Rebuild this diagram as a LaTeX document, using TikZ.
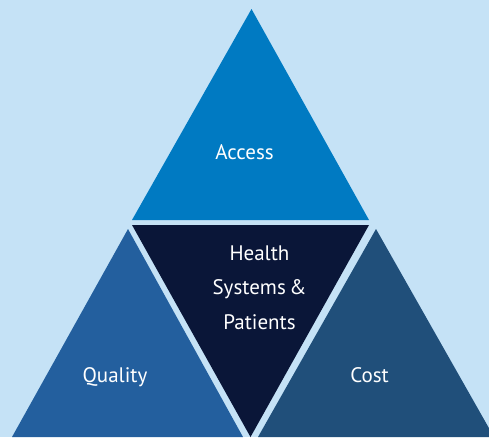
\documentclass[tikz,border=0pt]{standalone}
\usepackage{fontspec}
\setmainfont{PT Sans}
\usetikzlibrary{positioning}
\definecolor{paleblue}{HTML}{C5E2F6}
\definecolor{accessblue}{HTML}{007AC2}
\definecolor{qualityblue}{HTML}{235F9E}
\definecolor{costblue}{HTML}{204F7A}
\definecolor{coreblue}{HTML}{0A1638}

\begin{document}
\begin{tikzpicture}
                      [x=1pt, y=-1pt, node distance=34.5pt,
                       word/.style={text=white, inner sep=0pt, anchor=base, font=\fontsize{21}{25}\selectfont}]
                      \useasboundingbox (0,0) rectangle (489,437);
                      % background %
                      \fill[paleblue] (0,0) rectangle (489,437);

                      % triangles %
                      \fill[accessblue] (251.5,9) -- (369,220) -- (132,220) -- cycle;
                      \fill[coreblue] (132,225) -- (369,225) -- (250.5,437) -- cycle;
                      \fill[qualityblue] (128,229) -- (243,437) -- (12,437) -- cycle;
                      \fill[costblue] (376,229) -- (494,437) -- (258,437) -- cycle;

                      % labels %
                      \node[word] (access) at (244.5,159) {Access};
                      \node[word] (health) at (259.5,260) {Health};
                      \node[word, below=of health.base, anchor=base] (systems) {Systems\,\&};
                      \node[word, below=of systems.base, anchor=base] (patients) {Patients};
                      \node[word] (quality) at (115,382) {Quality};
                      \node[word] (cost) at (369.5,382) {Cost};
                    \end{tikzpicture}
\end{document}
